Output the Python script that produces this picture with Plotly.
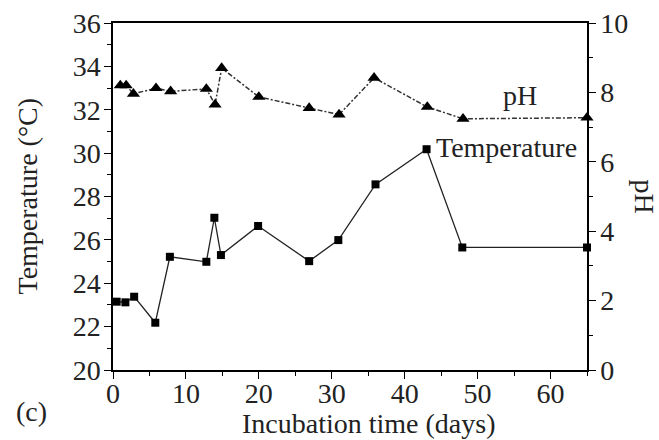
import plotly.graph_objects as go

# ---- data ----
temp_days = [0.5, 1.7, 2.9, 5.8, 7.8, 12.8, 13.9, 14.8, 19.9, 26.9, 30.9, 36.0, 43.0, 47.9, 65]
temperature = [23.15, 23.12, 23.38, 22.18, 25.22, 24.99, 27.02, 25.30, 26.64, 25.02, 25.99, 28.56, 30.18, 25.65, 25.65]

ph_days = [1.0, 1.8, 2.8, 5.9, 7.9, 12.8, 14.0, 14.9, 20.0, 26.9, 31.0, 35.8, 43.1, 48.0, 65]
ph_values = [8.20, 8.20, 7.96, 8.12, 8.03, 8.10, 7.65, 8.70, 7.87, 7.55, 7.36, 8.42, 7.58, 7.24, 7.27]

x_ticks = [0, 10, 20, 30, 40, 50, 60]
temp_ticks = [20, 22, 24, 26, 28, 30, 32, 34, 36]
ph_ticks = [0, 2, 4, 6, 8, 10]

FONT = "Liberation Serif"
FS = 28

fig = go.Figure()
fig.add_trace(go.Scatter(
    x=temp_days, y=temperature, mode="lines+markers", name="Temperature",
    line=dict(color="#222222", width=1.3),
    marker=dict(symbol="square", size=8, color="black"),
    cliponaxis=False, yaxis="y"))
fig.add_trace(go.Scatter(
    x=ph_days, y=ph_values, mode="lines+markers", name="pH",
    line=dict(color="#333333", width=1.5, dash="5px,2px,2px,2px"),
    marker=dict(symbol="triangle-up", size=11.5, color="black"),
    cliponaxis=False, yaxis="y2"))

axis_common = dict(
    showline=True, linecolor="black", linewidth=1.5,
    ticks="outside", ticklen=7, tickwidth=1.3, tickcolor="black",
    showgrid=False, zeroline=False, automargin=False,
    tickfont=dict(family=FONT, size=FS, color="#222"),
)

fig.update_layout(
    width=659, height=440,
    margin=dict(l=113, r=72, t=23, b=70, autoexpand=False),
    paper_bgcolor="white", plot_bgcolor="white",
    font=dict(family=FONT, size=FS, color="#222"),
    showlegend=False,
    xaxis=dict(range=[0, 65], tickvals=x_ticks, mirror=True, ticklabelstandoff=-9,
               minor=dict(dtick=5, tick0=0, ticks="outside", ticklen=4, tickcolor="black", tickwidth=1.2),
               **axis_common),
    yaxis=dict(range=[20, 36], tickvals=temp_ticks, ticklabelstandoff=-2,
               minor=dict(dtick=1, tick0=20, ticks="outside", ticklen=4, tickcolor="black", tickwidth=1.2),
               **axis_common),
    yaxis2=dict(range=[0, 10], tickvals=ph_ticks, overlaying="y", side="right", ticklabelstandoff=-1,
                minor=dict(dtick=1, tick0=0, ticks="outside", ticklen=4, tickcolor="black", tickwidth=1.2),
                **axis_common),
)

ann_font = dict(family=FONT, size=FS, color="#222")
annotations = [
    dict(text="Temperature (°C)", xref="paper", yref="paper", x=(27 - 113) / 474, y=0.5,
         textangle=-90, showarrow=False, font=ann_font, xanchor="center", yanchor="middle"),
    dict(text="pH", xref="paper", yref="paper", x=(644 - 113) / 474, y=0.5,
         textangle=90, showarrow=False, font=ann_font, xanchor="center", yanchor="middle"),
    dict(text="Incubation time (days)", xref="paper", yref="paper", x=(368 - 113) / 474, y=(370 - 423) / 347,
         showarrow=False, font=ann_font, xanchor="center", yanchor="middle"),
    dict(text="(c)", xref="paper", yref="paper", x=(31 - 113) / 474, y=(370 - 412) / 347,
         showarrow=False, font=ann_font, xanchor="center", yanchor="middle"),
    dict(text="Temperature", xref="x", yref="y", x=44.0, y=30.27,
         showarrow=False, font=ann_font, xanchor="left", yanchor="middle"),
    dict(text="pH", xref="x", yref="y2", x=55.8, y=7.91,
         showarrow=False, font=ann_font, xanchor="center", yanchor="middle"),
]
fig.update_layout(annotations=annotations)

fig.write_html("out.html", config={"displayModeBar": False},
               post_script="document.body.style.margin='0';document.body.style.overflow='hidden';")
